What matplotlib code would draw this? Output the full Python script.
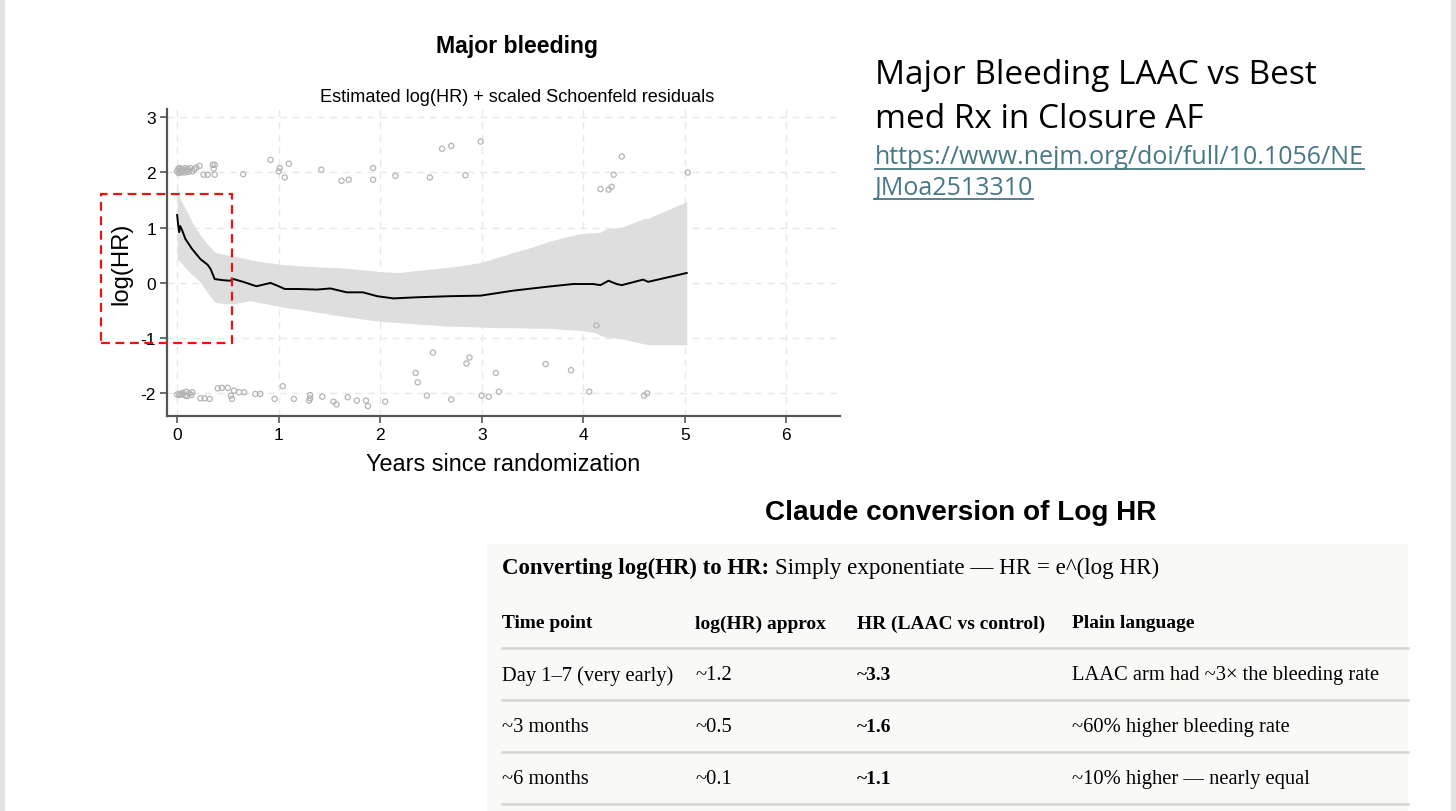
import matplotlib
matplotlib.use("Agg")
import matplotlib.pyplot as plt
from matplotlib.patches import Rectangle
from matplotlib.lines import Line2D

plt.rcParams["axes.unicode_minus"] = False

# ---------------- data ----------------
est_x = [0, 0.01, 0.02, 0.03, 0.05, 0.08, 0.145, 0.23, 0.30, 0.33, 0.37, 0.45, 0.52, 0.555,
         0.65, 0.78, 0.92, 1.0, 1.06, 1.2, 1.38, 1.51, 1.67, 1.83, 1.97, 2.13, 2.36, 2.69,
         2.99, 3.31, 3.64, 3.9, 4.1, 4.17, 4.25, 4.33, 4.38, 4.59, 4.64, 5.02]
est_y = [1.23, 1.05, 0.92, 1.03, 0.95, 0.80, 0.62, 0.43, 0.33, 0.25, 0.07, 0.05, 0.04, 0.07,
         0.02, -0.06, 0.0, -0.06, -0.11, -0.11, -0.12, -0.10, -0.17, -0.17, -0.24, -0.28, -0.26,
         -0.24, -0.23, -0.14, -0.07, -0.02, -0.02, -0.04, 0.04, -0.02, -0.04, 0.06, 0.02, 0.18]

band_x = [0, 0.01, 0.03, 0.08, 0.13, 0.18, 0.23, 0.30, 0.37, 0.45, 0.55, 0.72, 0.88, 1.05,
          1.21, 1.38, 1.54, 1.70, 1.93, 2.03, 2.2, 2.33, 2.5, 2.66, 2.82, 2.99, 3.15, 3.31,
          3.48, 3.64, 3.80, 3.97, 4.12, 4.17, 4.23, 4.38, 4.59, 4.64, 4.80, 5.02]
band_hi = [1.85, 1.62, 1.52, 1.35, 1.16, 1.0, 0.86, 0.70, 0.56, 0.52, 0.49, 0.42, 0.37, 0.33,
           0.31, 0.29, 0.28, 0.26, 0.22, 0.20, 0.19, 0.22, 0.25, 0.28, 0.32, 0.37, 0.46, 0.55,
           0.64, 0.74, 0.82, 0.89, 0.91, 0.92, 0.98, 1.01, 1.16, 1.17, 1.30, 1.47]
band_lo = [0.40, 0.42, 0.38, 0.28, 0.18, 0.10, 0.01, -0.18, -0.35, -0.37, -0.38, -0.32, -0.38,
           -0.44, -0.48, -0.53, -0.58, -0.62, -0.68, -0.70, -0.72, -0.74, -0.76, -0.78, -0.79,
           -0.80, -0.81, -0.81, -0.82, -0.82, -0.84, -0.86, -0.90, -0.95, -0.98, -1.01, -1.10,
           -1.12, -1.12, -1.12]

res_x = [0.0, 0.01, 0.015, 0.02, 0.03, 0.035, 0.04, 0.05, 0.06, 0.07, 0.08, 0.09, 0.10, 0.11,
         0.12, 0.13, 0.15, 0.17, 0.19, 0.22, 0.26, 0.30, 0.35, 0.37, 0.37, 0.36, 0.65, 0.92,
         1.0, 1.01, 1.06, 1.10, 1.42, 1.62, 1.69, 1.93, 1.93, 2.15, 2.49, 2.61, 2.70, 2.84,
         2.99, 4.13, 4.17, 4.25, 4.28, 4.30, 4.38, 5.03,
         0.0, 0.02, 0.03, 0.05, 0.06, 0.08, 0.09, 0.10, 0.12, 0.14, 0.15, 0.23, 0.27, 0.32,
         0.40, 0.44, 0.50, 0.53, 0.54, 0.56, 0.61, 0.66, 0.77, 0.82, 0.96, 1.04, 1.15, 1.30,
         1.31, 1.31, 1.43, 1.54, 1.57, 1.68, 1.77, 1.86, 1.88, 2.05, 2.35, 2.37, 2.46, 2.52,
         2.70, 2.85, 2.88, 3.00, 3.07, 3.14, 3.17, 3.63, 3.88, 4.06, 4.60, 4.63]
res_y = [2.02, 2.06, 1.99, 2.08, 2.03, 2.00, 2.07, 2.02, 2.05, 2.0, 2.08, 2.03, 2.06, 2.01,
         2.04, 2.08, 2.02, 2.06, 2.09, 2.12, 1.96, 1.96, 2.14, 2.14, 1.96, 2.07, 1.97, 2.23,
         2.02, 2.08, 1.91, 2.16, 2.05, 1.85, 1.87, 2.08, 1.87, 1.94, 1.91, 2.43, 2.48, 1.95,
         2.56, -0.77, 1.70, 1.69, 1.74, 1.96, 2.29, 2.0,
         -2.02, -2.03, -2.01, -2.02, -1.99, -2.04, -1.97, -2.05, -2.0, -2.03, -1.98, -2.09,
         -2.09, -2.10, -1.91, -1.90, -1.90, -2.04, -2.10, -1.95, -1.98, -1.98, -2.01, -2.01,
         -2.10, -1.87, -2.10, -2.13, -2.03, -2.09, -2.06, -2.15, -2.20, -2.07, -2.13, -2.13,
         -2.23, -2.15, -1.63, -1.80, -2.04, -1.26, -2.11, -1.46, -1.35, -2.04, -2.06, -1.63,
         -1.97, -1.47, -1.58, -1.97, -2.04, -2.00]

x_ticks = [0, 1, 2, 3, 4, 5, 6]
y_ticks = [-2, -1, 0, 1, 2, 3]

table_cols = ["Time point", "log(HR) approx", "HR (LAAC vs control)", "Plain language"]
time_points = ["Day 1\u20137 (very early)", "~3 months", "~6 months"]
log_hr = ["~1.2", "~0.5", "~0.1"]
hr_vals = ["~3.3", "~1.6", "~1.1"]
plain = ["LAAC arm had ~3\u00d7 the bleeding rate", "~60% higher bleeding rate",
         "~10% higher \u2014 nearly equal"]

# ---------------- figure ----------------
W, H = 1456, 812
fig = plt.figure(figsize=(W / 100, H / 100), dpi=100)
fig.patch.set_facecolor("white")
fig.canvas.draw()
rend = fig.canvas.get_renderer()

def fx(px):
    return px / W

def fy(py):
    return 1 - py / H

def fit(t, target_px):
    """scale a text's fontsize so its rendered width matches target_px"""
    b = t.get_window_extent(rend)
    t.set_fontsize(t.get_fontsize() * target_px / b.width)
    return t

# slide borders
fig.patches.append(Rectangle((0, 0), fx(5), 1, transform=fig.transFigure,
                             facecolor="#e2e2e2", edgecolor="none"))
fig.patches.append(Rectangle((fx(1451), 0), fx(5), 1, transform=fig.transFigure,
                             facecolor="#e2e2e2", edgecolor="none"))

sans = ["Liberation Sans", "DejaVu Sans"]
ax = fig.add_axes([fx(167), fy(417), fx(840 - 167), (417 - 110) / H])
ax.set_xlim(-0.1, 6.53)
ax.set_ylim(-2.41, 3.15)
ax.fill_between(band_x, band_lo, band_hi, color="#dedede", linewidth=0, zorder=1)
ax.plot(est_x, est_y, color="black", lw=1.4, zorder=3)
ax.scatter(res_x, res_y, s=14, facecolors="none", edgecolors="#b4b4b4", linewidths=0.9, zorder=2)
ax.set_xticks(x_ticks)
ax.set_yticks(y_ticks)
ax.grid(True, color="#e8e8e8", linestyle=(0, (5, 4)), linewidth=1.0, zorder=0)
ax.set_axisbelow(True)
for s in ["top", "right"]:
    ax.spines[s].set_visible(False)
for s in ["left", "bottom"]:
    ax.spines[s].set_color("#555555")
    ax.spines[s].set_linewidth(1.6)
ax.tick_params(direction="out", length=5, width=1.2, color="#555555", labelsize=12.5, pad=3)
for lab in ax.get_xticklabels() + ax.get_yticklabels():
    lab.set_fontfamily(sans)
ax.set_xlabel("Years since randomization", fontsize=16.8, family=sans, labelpad=7)
ax.set_ylabel("log(HR)", fontsize=17.2, family=sans, labelpad=6)

# red dashed annotation box
fig.patches.append(Rectangle((fx(101), fy(344)), fx(232 - 101), (344 - 195) / H,
                             transform=fig.transFigure, fill=False, edgecolor="#ee1111",
                             linestyle=(0, (4, 2.5)), linewidth=1.6, zorder=10))

fit(fig.text(fx(517), fy(46), "Major bleeding", ha="center", va="center", fontsize=14.5,
             fontweight="bold", family=sans), 162)
fit(fig.text(fx(517), fy(98), "Estimated log(HR) + scaled Schoenfeld residuals", ha="center",
             va="center", fontsize=12, family=sans), 396)

# right-hand title + link
rt = ["Open Sans", "DejaVu Sans"]
t1 = fit(fig.text(fx(875), fy(76), "Major Bleeding LAAC vs Best", ha="left", va="center",
                  fontsize=19.5, family=rt, color="black"), 443)
fig.text(fx(875), fy(119), "med Rx in Closure AF", ha="left", va="center",
         fontsize=t1.get_fontsize(), family=rt, color="black")
link_col = "#467886"
l1 = fit(fig.text(fx(875), fy(158), "https://www.nejm.org/doi/full/10.1056/NE", ha="left",
                  va="center", fontsize=15.5, family=rt, color=link_col), 491)
l2 = fig.text(fx(875), fy(188), "JMoa2513310", ha="left", va="center",
              fontsize=l1.get_fontsize(), family=rt, color=link_col)

fit(fig.text(fx(961), fy(513), "Claude conversion of Log HR", ha="center", va="center",
             fontsize=17.5, fontweight="bold", family=sans), 391)

# table panel
fig.patches.append(Rectangle((fx(487), fy(812)), fx(1408 - 487), (812 - 545) / H,
                             transform=fig.transFigure, facecolor="#f9f9f7",
                             edgecolor="none", zorder=0))
serif = ["Liberation Serif", "DejaVu Serif"]
col_x = [502, 695, 857, 1072]
row_y = [676, 728, 780]

# size for regular and bold serif text, fitted to reference widths
probe_r = fit(fig.text(fx(col_x[3]), fy(row_y[0]), plain[0], ha="left", va="center",
                       fontsize=14, family=serif), 308)
fs_r = probe_r.get_fontsize()
probe_b = fit(fig.text(fx(col_x[2]), fy(624), table_cols[2], ha="left", va="center",
                       fontsize=14, fontweight="bold", family=serif), 189)
fs_b = probe_b.get_fontsize()

c1 = fit(fig.text(fx(502), fy(568), "Converting log(HR) to HR:", ha="left", va="center",
                  fontsize=fs_b, fontweight="bold", family=serif), 268)
fit(fig.text(fx(775), fy(568), "Simply exponentiate \u2014 HR = e^(log HR)", ha="left",
             va="center", fontsize=fs_r, family=serif), 384)

for k, (cx, name) in enumerate(zip(col_x, table_cols)):
    if k == 2:
        continue
    fig.text(fx(cx), fy(624), name, ha="left", va="center", fontsize=fs_b, fontweight="bold",
             family=serif)
for i, ry in enumerate(row_y):
    fig.text(fx(col_x[0]), fy(ry), time_points[i], ha="left", va="center", fontsize=fs_r, family=serif)
    fig.text(fx(col_x[1]), fy(ry), log_hr[i], ha="left", va="center", fontsize=fs_r, family=serif)
    fig.text(fx(col_x[2]), fy(ry), hr_vals[i], ha="left", va="center", fontsize=fs_b,
             fontweight="bold", family=serif)
    if i > 0:
        fig.text(fx(col_x[3]), fy(ry), plain[i], ha="left", va="center", fontsize=fs_r, family=serif)
for ly in [649, 701, 753, 805]:
    fig.lines.append(Line2D([fx(502), fx(1408)], [fy(ly), fy(ly)], transform=fig.transFigure,
                            color="#d4d4d4", linewidth=1.8))

# underline links
for t in (l1, l2):
    b = t.get_window_extent(rend)
    fig.lines.append(Line2D([b.x0 / W, b.x1 / W], [(b.y0 + 1) / H, (b.y0 + 1) / H],
                            transform=fig.transFigure, color=link_col, linewidth=1.3))

fig.savefig("out.png", dpi=100, facecolor="white")
